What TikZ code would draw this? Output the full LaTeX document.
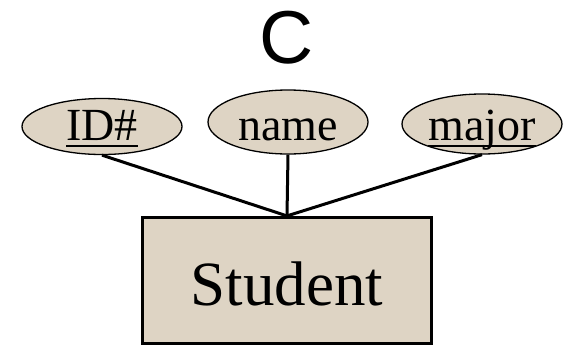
\documentclass[tikz,border=0pt]{standalone}
\usepackage{fontspec}
\setmainfont{Liberation Serif}
\newfontfamily\titlefont{Liberation Sans}
\usetikzlibrary{shapes.geometric}
\definecolor{beige}{RGB}{222,212,196}
\newcommand{\ulat}[2]{\setbox0\hbox{#2}\rlap{\rule[-#1]{\wd0}{1.8pt}}\box0}
\tikzset{
  attr/.style={ellipse, draw=black, line width=1.3pt, fill=beige, inner sep=0pt,
    minimum width=160pt, font=\fontsize{46}{50}\selectfont, text depth=0pt},
  entity/.style={rectangle, draw=black, line width=3.2pt, fill=beige, inner sep=0pt,
    minimum width=289pt, minimum height=126pt, font=\fontsize{63}{70}\selectfont,
    text height=49pt, text depth=0pt},
  conn/.style={draw=black, line width=3pt}
}
\begin{document}
\begin{tikzpicture}[x=1pt,y=-1pt]
\useasboundingbox (0,0) rectangle (568,346);
\node[font=\titlefont\fontsize{75}{80}\selectfont, anchor=base, inner sep=0pt] (title) at (287,63) {C};
\node[attr, minimum height=56pt, text height=27pt] (id) at (102,126.5) {\ulat{7pt}{ID\#}};
\node[attr, minimum height=64pt, text height=37pt] (name) at (288,122) {name};
\node[attr, minimum height=60pt, text height=33pt] (major) at (482,124) {\ulat{6pt}{major}};
\node[entity] (student) at (287,280.5) {Student};
\draw[conn] (id.south) -- (student.north);
\draw[conn] (name.south) -- (student.north);
\draw[conn] (major.south) -- (student.north);
\end{tikzpicture}
\end{document}
